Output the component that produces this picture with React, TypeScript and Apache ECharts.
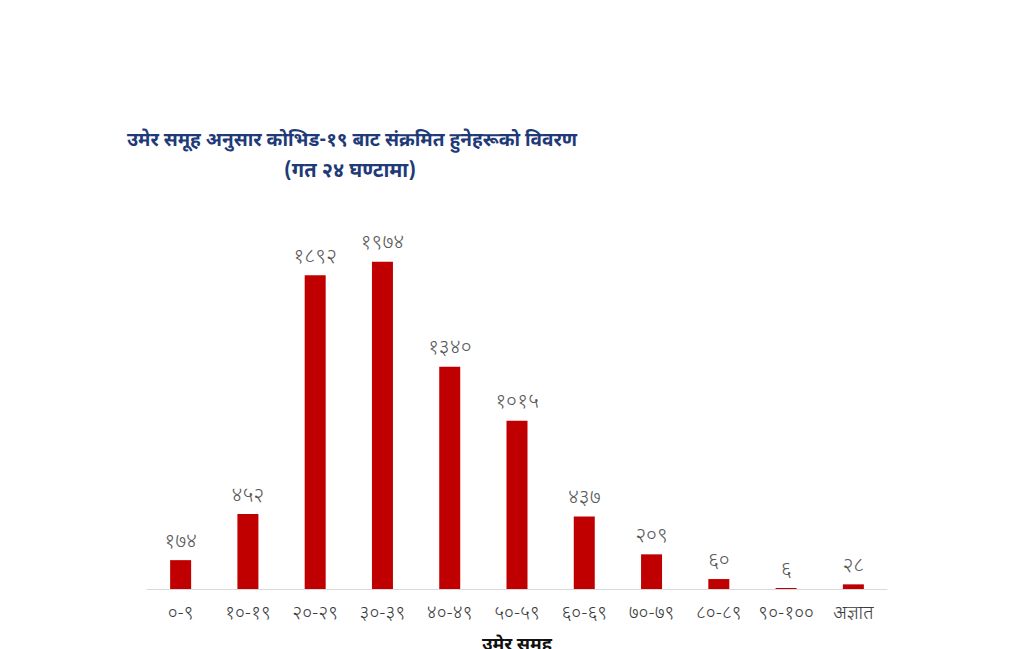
import React, { useEffect, useRef } from "react";
import * as echarts from "echarts";

const categories = ["०-९", "१०-१९", "२०-२९", "३०-३९", "४०-४९", "५०-५९", "६०-६९", "७०-७९", "८०-८९", "९०-१००", "अज्ञात"];
const values = [174, 452, 1892, 1974, 1340, 1015, 437, 209, 60, 6, 28];
const titleLines = ["उमेर समूह अनुसार कोभिड-१९ बाट संक्रमित हुनेहरूको विवरण", "(गत २४ घण्टामा)"];
const axisName = "उमेर समूह";

const devDigits = ["०", "१", "२", "३", "४", "५", "६", "७", "८", "९"];
const toDev = (n: number) => String(n).replace(/[0-9]/g, (d) => devDigits[Number(d)]);

const FONT = "'Noto Sans Devanagari', 'Noto Sans', 'DejaVu Sans', sans-serif";

export default function App() {
  const ref = useRef<HTMLDivElement>(null);
  useEffect(() => {
    document.body.style.margin = "0";
    const chart = echarts.init(ref.current!, undefined, { renderer: "svg" });
    chart.setOption({
      animation: false,
      backgroundColor: "#ffffff",
      textStyle: { fontFamily: FONT },
      grid: {
        left: 147,
        right: 137,
        top: 191,
        bottom: 60,
        containLabel: false,
        outerBoundsMode: "none",
      },
      graphic: [
        {
          type: "text",
          x: 352,
          y: 141,
          style: {
            text: titleLines[0],
            fill: "#1f3a78",
            font: `bold 19px ${FONT}`,
            textAlign: "center",
            textVerticalAlign: "middle",
          },
        },
        {
          type: "text",
          x: 350,
          y: 172,
          style: {
            text: titleLines[1],
            fill: "#1f3a78",
            font: `bold 20px ${FONT}`,
            textAlign: "center",
            textVerticalAlign: "middle",
          },
        },
      ],
      xAxis: {
        type: "category",
        data: categories,
        name: axisName,
        nameLocation: "middle",
        nameGap: 47,
        nameTextStyle: { color: "#111", fontSize: 18, fontWeight: "bold", fontFamily: FONT },
        axisLine: { lineStyle: { color: "#d9d9d9", width: 1 } },
        axisTick: { show: false },
        axisLabel: {
          color: "#3c3c3c",
          fontSize: 19,
          fontWeight: 300,
          margin: 16,
          interval: 0,
          fontFamily: FONT,
        },
      },
      yAxis: {
        type: "value",
        min: 0,
        max: 2400,
        show: false,
        splitLine: { show: false },
      },
      series: [
        {
          type: "bar",
          data: values,
          barWidth: 21,
          itemStyle: { color: "#c00000" },
          label: {
            show: true,
            position: "top",
            distance: 7,
            color: "#595959",
            fontSize: 21,
            fontWeight: 300,
            fontFamily: FONT,
            formatter: (p: any) => toDev(p.value),
          },
        },
      ],
    });
    return () => chart.dispose();
  }, []);
  return <div ref={ref} style={{ width: 1024, height: 649 }} />;
}
